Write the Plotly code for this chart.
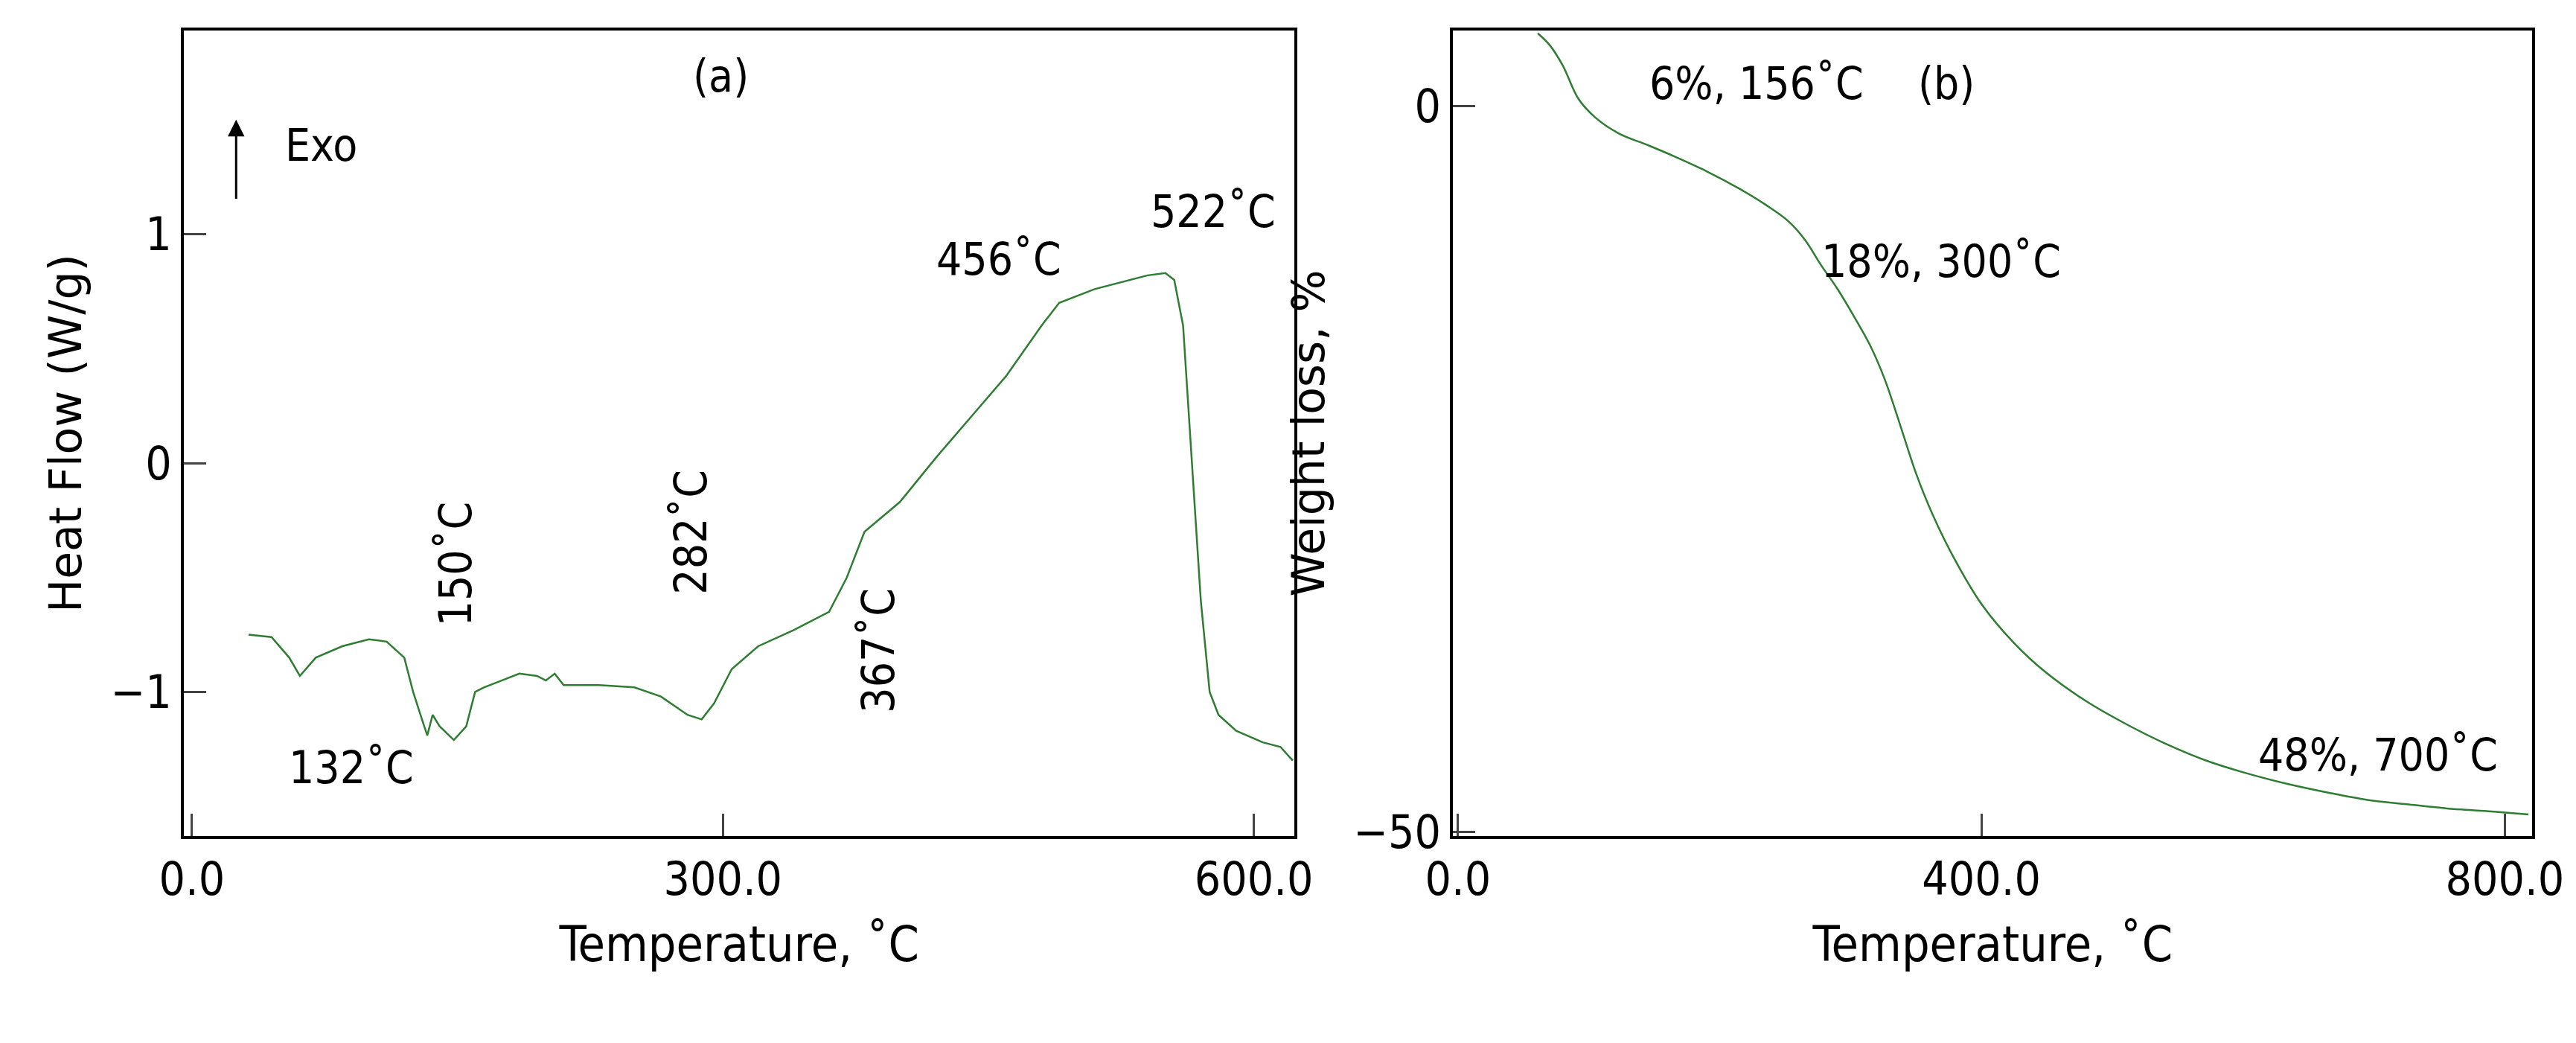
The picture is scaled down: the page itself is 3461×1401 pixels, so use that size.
import plotly.graph_objects as go
from plotly.subplots import make_subplots

# DSC curve (a)
dsc_temp = [32, 45, 55, 61, 70, 85, 100, 110, 120, 125, 130, 133, 136, 140, 148, 155, 160, 165, 175, 185,
            195, 200, 205, 210, 230, 250, 265, 280, 288, 295, 305, 320, 340, 360, 370, 380, 400, 420, 440,
            460, 480, 490, 510, 530, 540, 550, 555, 560, 565, 570, 575, 580, 590, 605, 615, 622]
dsc_flow = [-0.75, -0.76, -0.85, -0.93, -0.85, -0.8, -0.77, -0.78, -0.85, -1.0, -1.12, -1.19, -1.1, -1.15,
            -1.21, -1.15, -1.0, -0.98, -0.95, -0.92, -0.93, -0.95, -0.92, -0.97, -0.97, -0.98, -1.02, -1.1,
            -1.12, -1.05, -0.9, -0.8, -0.73, -0.65, -0.5, -0.3, -0.17, 0.02, 0.2, 0.38, 0.6, 0.7, 0.76, 0.8,
            0.82, 0.83, 0.8, 0.6, 0.0, -0.6, -1.0, -1.1, -1.17, -1.22, -1.24, -1.3]

# TGA curve (b)
tga_temp = [61, 70, 80, 92, 105, 123, 145, 166, 190, 215, 235, 252, 265, 277, 290, 302, 315, 326, 338,
            350, 363, 380, 400, 425, 449, 480, 511, 540, 572, 600, 634, 665, 695, 725, 757, 790, 818]
tga_loss = [5.0, 4.2, 2.8, 0.5, -0.8, -1.9, -2.7, -3.5, -4.5, -5.7, -6.8, -7.9, -9.2, -10.9, -12.6,
            -14.4, -16.5, -18.8, -22.0, -25.3, -28.2, -31.3, -34.3, -37.0, -39.0, -41.0, -42.6, -43.9,
            -45.1, -45.9, -46.7, -47.3, -47.8, -48.1, -48.4, -48.6, -48.8]

fig = make_subplots(rows=1, cols=2)
green = "#2e7d32"
fig.add_trace(go.Scatter(x=dsc_temp, y=dsc_flow, mode="lines", line=dict(color=green, width=2.5)), 1, 1)
fig.add_trace(go.Scatter(x=tga_temp, y=tga_loss, mode="lines",
                         line=dict(color=green, width=2.5, shape="spline")), 1, 2)

tick_font = dict(family="DejaVu Sans Condensed", size=62, color="black")
ax = dict(showgrid=False, zeroline=False, showline=True, linecolor="black", linewidth=4, mirror=True,
          ticks="inside", ticklen=30, tickwidth=3, tickfont=tick_font)
fig.update_xaxes(**ax)
fig.update_yaxes(**ax)

xt_font = dict(family="DejaVu Sans Condensed", size=66, color="black")
yt_font = dict(family="DejaVu Sans", size=60, color="black")
fig.update_layout(
    xaxis=dict(domain=[0.0595, 0.501], range=[-4.5, 623], tickvals=[0, 300, 600],
               ticktext=["0.0", "300.0", "600.0"],
               title=dict(text="Temperature, ˚C", font=xt_font, standoff=30)),
    yaxis=dict(domain=[0.186, 0.976], range=[-1.63, 1.89], tickvals=[-1, 0, 1], ticktext=["−1", "0", "1"],
               title=dict(text="Heat Flow (W/g)", font=yt_font, standoff=20)),
    xaxis2=dict(domain=[0.564, 0.993], range=[-3.7, 821], tickvals=[0, 400, 800],
                ticktext=["0.0", "400.0", "800.0"],
                title=dict(text="Temperature, ˚C", font=xt_font, standoff=30)),
    yaxis2=dict(domain=[0.186, 0.976], range=[-50.3, 5.2], tickvals=[-50, 0], ticktext=["−50", "0"],
                title=dict(text="Weight loss, %", font=yt_font, standoff=20)),
    showlegend=False, plot_bgcolor="white", paper_bgcolor="white",
    margin=dict(l=0, r=0, t=0, b=0), width=3461, height=1401,
)

ann_font = dict(family="DejaVu Sans Condensed", size=60, color="black")
labels_a = [("(a)", 299, 1.69, 0), ("Exo", 73, 1.39, 0), ("456˚C", 456, 0.89, 0), ("522˚C", 577, 1.1, 0),
            ("132˚C", 90, -1.33, 0), ("150˚C", 149, -0.44, -90), ("282˚C", 282, -0.3, -90),
            ("367˚C", 388, -0.82, -90)]
for t, x, y, ang in labels_a:
    fig.add_annotation(x=x, y=y, xref="x", yref="y", text=t, showarrow=False, textangle=ang, font=ann_font)
labels_b = [("6%, 156˚C", 228, 1.56), ("(b)", 373, 1.56), ("18%, 300˚C", 369, -10.7), ("48%, 700˚C", 703, -44.7)]
for t, x, y in labels_b:
    fig.add_annotation(x=x, y=y, xref="x2", yref="y2", text=t, showarrow=False, font=ann_font)
# Exo arrow
fig.add_annotation(x=25, y=1.5, ax=25, ay=1.15, xref="x", yref="y", axref="x", ayref="y", text="",
                   showarrow=True, arrowhead=2, arrowsize=1.5, arrowwidth=3, arrowcolor="black")

fig.write_html("out.html")
